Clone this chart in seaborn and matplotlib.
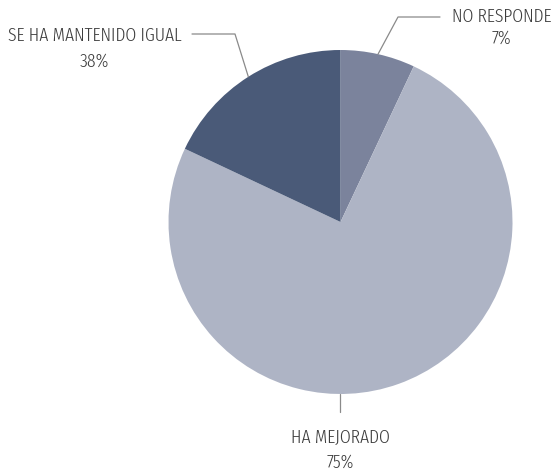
import numpy as np
import matplotlib
matplotlib.use('Agg')
import matplotlib.pyplot as plt
from matplotlib import font_manager as fm
import seaborn as sns

# datos del gráfico (orden: sentido horario desde arriba)
categories = ['NO RESPONDE', 'HA MEJORADO', 'SE HA MANTENIDO IGUAL']
slice_values = [7, 75, 18]
pct_labels = ['7%', '75%', '38%']
slice_colors = ['#7b839c', '#aeb4c5', '#4a5a78']

sns.set_style('white')
plt.rcParams['font.family'] = ['DejaVu Sans']


def pick_condensed():
    """buscar una fuente estrecha instalada (tipo DIN condensed)"""
    prefs = ['Roboto', 'Roboto Condensed', 'Liberation Sans Narrow',
             'Noto Sans', 'Open Sans', 'Lato', 'Inter', 'DejaVu Sans']
    best = None
    for f in fm.fontManager.ttflist:
        name = f.name
        path_l = f.fname.lower()
        if f.style != 'normal' or 'expanded' in path_l or 'semicondensed' in path_l:
            continue
        if 'extracondensed' in path_l or str(f.stretch) == 'extra-condensed':
            narrow = 0
        elif ('condensed' in path_l or 'narrow' in path_l
              or str(f.stretch) == 'condensed'):
            narrow = 1
        else:
            continue
        fam = next((i for i, p in enumerate(prefs) if name.startswith(p)), len(prefs))
        try:
            wt = int(f.weight)
        except ValueError:
            wt = 400
        score = (narrow, fam, abs(wt - 350))
        if best is None or score < best[0]:
            best = (score, f.fname)
    return best[1] if best else None


cond = pick_condensed()
if cond:
    font = fm.FontProperties(fname=cond, size=13)
else:
    font = fm.FontProperties(family='DejaVu Sans', size=10)

W, H = 554, 474
fig = plt.figure(figsize=(W / 100, H / 100), dpi=100)
ax = fig.add_axes([0, 0, 1, 1])

cx, cy, r = 340.5, H - 222, 172
wedges, _ = ax.pie(slice_values, colors=slice_colors, startangle=90,
                   counterclock=False, radius=r, center=(cx, cy),
                   wedgeprops=dict(linewidth=0))
ax.set_xlim(0, W)
ax.set_ylim(0, H)
ax.set_aspect('equal')
ax.axis('off')

# ajustar el tamaño para que la etiqueta más larga ocupe ~175 px
renderer = fig.canvas.get_renderer()
probe = ax.text(0, 0, categories[2], fontproperties=font)
wpx = probe.get_window_extent(renderer).width
probe.remove()
font.set_size(min(15, 13 * 175 / wpx))


def edge_point(deg):
    a = np.deg2rad(deg)
    return cx + r * np.cos(a), cy + r * np.sin(a)


def px(x, y):
    # coordenadas de píxel (y hacia abajo) -> datos
    return x, H - y


line_kw = dict(color='#8a8a8a', lw=0.9)
txt_kw = dict(color='#3d3d3d', fontproperties=font)

# NO RESPONDE
w = wedges[0]
x0, y0 = edge_point((w.theta1 + w.theta2) / 2)
x1, y1 = px(398, 17)
x2, y2 = px(440, 17)
ax.plot([x0, x1, x2], [y0, y1, y2], **line_kw)
ax.text(*px(501.5, 16.5), categories[0], ha='center', va='center', **txt_kw)
ax.text(*px(501.5, 38.5), pct_labels[0], ha='center', va='center', **txt_kw)

# HA MEJORADO
x0, y0 = edge_point(270)
ax.plot([x0, x0], [y0, H - 412], **line_kw)
ax.text(*px(cx, 437.5), categories[1], ha='center', va='center', **txt_kw)
ax.text(*px(cx, 462.5), pct_labels[1], ha='center', va='center', **txt_kw)

# SE HA MANTENIDO IGUAL
w = wedges[2]
x0, y0 = edge_point((w.theta1 + w.theta2) / 2)
x1, y1 = px(235, 34)
x2, y2 = px(192, 34)
ax.plot([x0, x1, x2], [y0, y1, y2], **line_kw)
ax.text(*px(94.5, 35.5), categories[2], ha='center', va='center', **txt_kw)
ax.text(*px(94.5, 62), pct_labels[2], ha='center', va='center', **txt_kw)

fig.savefig('out.png', dpi=100, facecolor='white')
